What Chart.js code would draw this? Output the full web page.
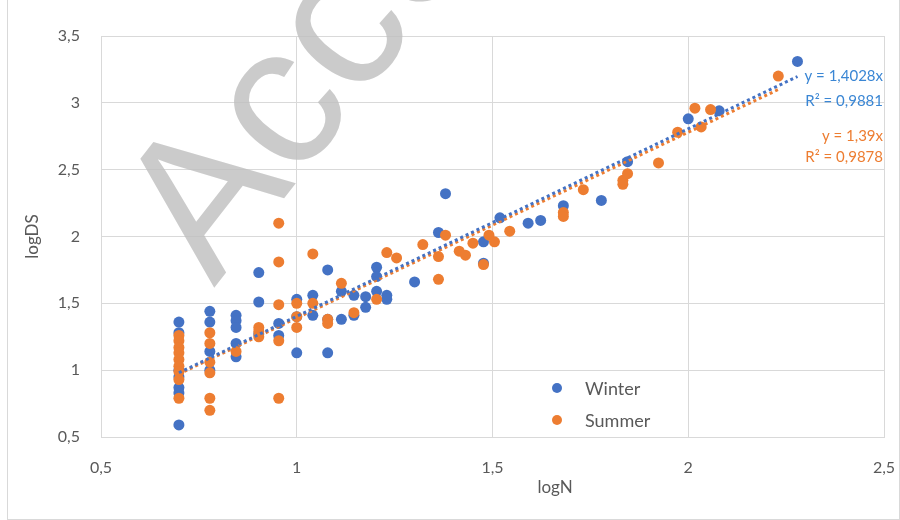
<!DOCTYPE html>
<html>
<head>
<meta charset="utf-8">
<script src="https://cdn.jsdelivr.net/npm/chart.js@4.4.0/dist/chart.umd.min.js"></script>
<style>
  html, body { margin: 0; padding: 0; background: #fff; }
  #wrap { position: relative; width: 900px; height: 520px; }
  #frame { position: absolute; left: 7px; top: -2px; width: 893px; height: 522px; border: 1px solid #d9d9d9; box-sizing: border-box; }
  #chart { position: absolute; left: 0; top: 0; }
</style>
</head>
<body>
<div id="wrap">
  <div id="frame"></div>
  <canvas id="chart" width="900" height="520"></canvas>
</div>
<script>
// logN / logDS
const winterX = [
  0.699, 0.699, 0.699, 0.699, 0.699, 0.699, 0.699,
  0.778, 0.778, 0.778, 0.778,
  0.845, 0.845, 0.845, 0.845, 0.845,
  0.903, 0.903, 0.903,
  0.954, 0.954,
  1.000, 1.000, 1.000,
  1.041, 1.041,
  1.079, 1.079, 1.079,
  1.114, 1.114,
  1.146, 1.146,
  1.176, 1.176,
  1.204, 1.204, 1.204,
  1.230, 1.230,
  1.301, 1.362, 1.380, 1.477, 1.477, 1.519, 1.591, 1.623, 1.681,
  1.778, 1.845, 2.000, 2.079, 2.279
];
const winterY = [
  1.36, 1.28, 1.00, 0.95, 0.87, 0.83, 0.59,
  1.44, 1.36, 1.14, 1.00,
  1.41, 1.37, 1.32, 1.20, 1.10,
  1.73, 1.51, 1.27,
  1.35, 1.26,
  1.53, 1.40, 1.13,
  1.56, 1.41,
  1.75, 1.38, 1.13,
  1.59, 1.38,
  1.56, 1.41,
  1.55, 1.47,
  1.77, 1.70, 1.59,
  1.56, 1.53,
  1.66, 2.03, 2.32, 1.96, 1.80, 2.14, 2.10, 2.12, 2.23,
  2.27, 2.56, 2.88, 2.94, 3.31
];

const summerX = [
  0.699, 0.699, 0.699, 0.699, 0.699, 0.699, 0.699, 0.699, 0.699,
  0.778, 0.778, 0.778, 0.778, 0.778, 0.778,
  0.845,
  0.903, 0.903, 0.903,
  0.954, 0.954, 0.954, 0.954, 0.954,
  1.000, 1.000, 1.000,
  1.041, 1.041,
  1.079, 1.079,
  1.114, 1.146, 1.204, 1.230, 1.255, 1.322,
  1.362, 1.362, 1.380, 1.415, 1.431, 1.450, 1.477, 1.491, 1.505, 1.544,
  1.681, 1.681, 1.732, 1.833, 1.833, 1.845, 1.924, 1.973, 2.017, 2.033, 2.057, 2.230
];
const summerY = [
  1.26, 1.22, 1.17, 1.13, 1.08, 1.03, 0.99, 0.93, 0.79,
  1.28, 1.20, 1.06, 0.98, 0.79, 0.70,
  1.14,
  1.32, 1.29, 1.25,
  2.10, 1.81, 1.49, 1.22, 0.79,
  1.50, 1.40, 1.32,
  1.87, 1.50,
  1.38, 1.35,
  1.65, 1.43, 1.53, 1.88, 1.84, 1.94,
  1.85, 1.68, 2.01, 1.89, 1.86, 1.95, 1.79, 2.01, 1.96, 2.04,
  2.18, 2.15, 2.35, 2.42, 2.39, 2.47, 2.55, 2.78, 2.96, 2.82, 2.95, 3.20
];

const seriesNames = ["Winter", "Summer"];
const slopes = [1.4028, 1.39];
const rSquared = [0.9881, 0.9878];
const xTicks = [0.5, 1, 1.5, 2, 2.5];
const yTicks = [0.5, 1, 1.5, 2, 2.5, 3, 3.5];

const BLUE = "#4472C4";
const ORANGE = "#ED7D31";
const GREY_TEXT = "#595959";
const GRID = "#d9d9d9";

const coma = v => String(v).replace(".", ",");
const toPoints = (xs, ys) => xs.map((x, i) => ({ x: x, y: ys[i] }));
const trend = (xs, k) => {
  const a = Math.min(...xs), b = Math.max(...xs);
  return [{ x: a, y: a * k }, { x: b, y: b * k }];
};

// textos que Excel pone dentro del área: ecuaciones, leyenda, marca de agua
const extras = {
  id: "extras",
  beforeDatasetsDraw(chart) {
    const { ctx } = chart;
    ctx.save();
    ctx.translate(214, 288);
    ctx.rotate(-52 * Math.PI / 180);
    ctx.font = "200px 'Liberation Sans'";
    ctx.fillStyle = "rgba(190,190,190,0.8)";
    ctx.textBaseline = "alphabetic";
    ctx.fillText("Accepted", 0, 0);
    ctx.restore();
  },
  afterDatasetsDraw(chart) {
    const { ctx, chartArea, scales } = chart;
    ctx.save();
    ctx.font = "15px Lato";
    ctx.textAlign = "right";
    ctx.textBaseline = "middle";
    const rx = chartArea.right - 1;
    ctx.fillStyle = "#3a86d4";
    ctx.fillText("y = " + coma(slopes[0]) + "x", rx, chartArea.top + 40);
    ctx.fillText("R² = " + coma(rSquared[0]), rx, chartArea.top + 65);
    ctx.fillStyle = ORANGE;
    ctx.fillText("y = " + coma(slopes[1]) + "x", rx, chartArea.top + 100);
    ctx.fillText("R² = " + coma(rSquared[1]), rx, chartArea.top + 121);

    // leyenda
    const colors = [BLUE, ORANGE];
    ctx.font = "18px Lato";
    ctx.textAlign = "left";
    seriesNames.forEach((n, i) => {
      const ly = chartArea.top + 352 + i * 32;
      ctx.fillStyle = colors[i];
      ctx.beginPath();
      ctx.arc(chartArea.left + 456, ly, 5, 0, Math.PI * 2);
      ctx.fill();
      ctx.fillStyle = GREY_TEXT;
      ctx.fillText(n, chartArea.left + 484, ly + 1);
    });

    // título eje x (Excel lo deja corrido a la derecha)
    ctx.font = "17px Lato";
    ctx.textAlign = "center";
    ctx.fillStyle = GREY_TEXT;
    ctx.fillText("logN", scales.x.getPixelForValue(1.66), chartArea.bottom + 51);
    ctx.restore();
  }
};

new Chart(document.getElementById("chart"), {
  type: "scatter",
  data: {
    datasets: [
      {
        label: seriesNames[0] + " trend",
        type: "line",
        data: trend(winterX, slopes[0]),
        borderColor: BLUE,
        borderWidth: 3,
        borderDash: [3, 3],
        pointRadius: 0,
        fill: false,
        order: 0
      },
      {
        label: seriesNames[1] + " trend",
        type: "line",
        data: trend(summerX, slopes[1]),
        borderColor: ORANGE,
        borderWidth: 3,
        borderDash: [3, 3],
        pointRadius: 0,
        fill: false,
        order: 1
      },
      {
        label: seriesNames[1],
        data: toPoints(summerX, summerY),
        backgroundColor: ORANGE,
        borderWidth: 0,
        pointRadius: 5.5,
        order: 2
      },
      {
        label: seriesNames[0],
        data: toPoints(winterX, winterY),
        backgroundColor: BLUE,
        borderWidth: 0,
        pointRadius: 5.5,
        order: 3
      }
    ]
  },
  options: {
    responsive: false,
    animation: false,
    layout: { padding: { left: 0, top: 36, right: 16, bottom: 0 } },
    plugins: {
      legend: { display: false },
      tooltip: { enabled: false }
    },
    scales: {
      x: {
        type: "linear",
        min: 0.5,
        max: 2.5,
        afterBuildTicks: s => { s.ticks = xTicks.map(v => ({ value: v })); },
        afterFit: s => { s.height = 83; s.paddingLeft = 0; s.paddingRight = 0; },
        grid: { color: GRID, drawTicks: false },
        border: { color: GRID },
        ticks: {
          padding: 21,
          color: GREY_TEXT,
          font: { family: "Lato", size: 16 },
          callback: v => coma(v)
        }
      },
      y: {
        type: "linear",
        min: 0.5,
        max: 3.5,
        afterBuildTicks: s => { s.ticks = yTicks.map(v => ({ value: v })); },
        afterFit: s => { s.width = 101; s.paddingTop = 0; s.paddingBottom = 0; },
        grid: { color: GRID, drawTicks: false },
        border: { color: GRID },
        title: {
          display: true,
          text: "logDS",
          color: GREY_TEXT,
          font: { family: "Lato", size: 17 },
          padding: { top: 22, bottom: 0 }
        },
        ticks: {
          padding: 21,
          color: GREY_TEXT,
          font: { family: "Lato", size: 16 },
          callback: v => coma(v)
        }
      }
    }
  },
  plugins: [extras]
});
</script>
</body>
</html>
